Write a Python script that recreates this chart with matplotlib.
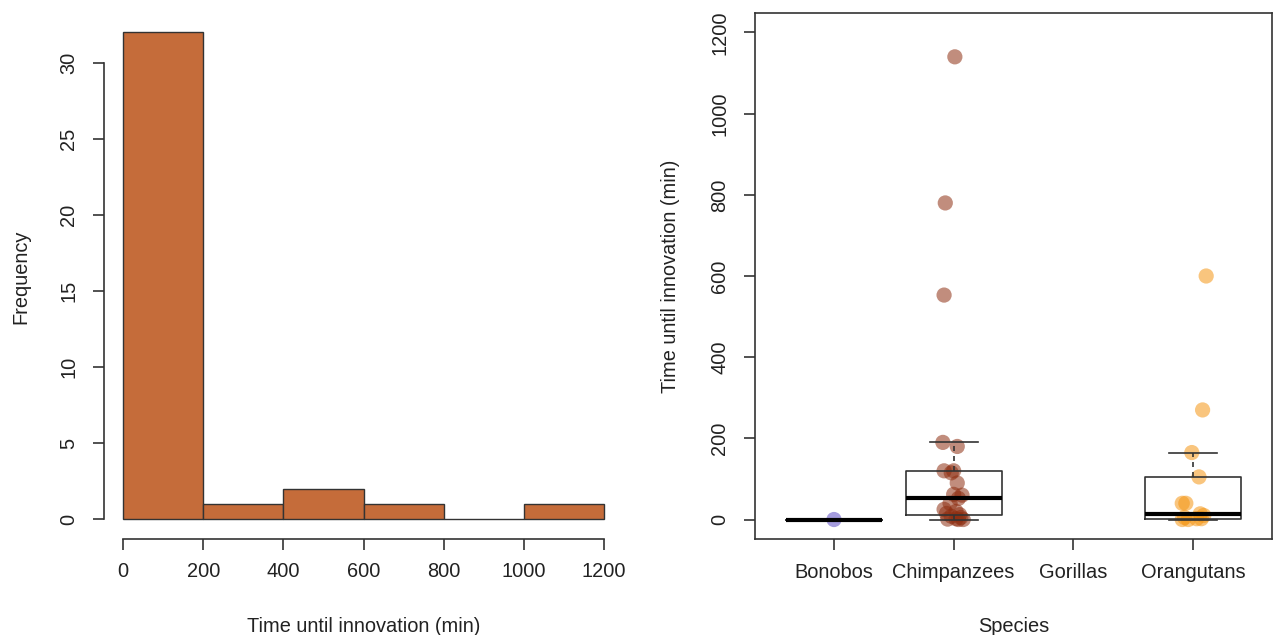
import numpy as np
import pandas as pd
import matplotlib
matplotlib.use("Agg")
import matplotlib.pyplot as plt

plt.rcParams['font.family'] = ['Liberation Sans', 'DejaVu Sans']

# ---------------- data ----------------
species = ['Bonobos', 'Chimpanzees', 'Gorillas', 'Orangutans']
bonobo_times = [0]
chimp_times = [0, 0, 1, 2, 5, 8, 12, 15, 20, 25, 40, 52, 60, 62, 90, 115, 120, 120,
               180, 190, 553, 780, 1140]
gorilla_times = []
orang_times = [0, 0, 2, 2, 5, 10, 14, 40, 40, 105, 165, 270, 600]

# horizontal jitter (category units)
bonobo_jitter = [0.0]
chimp_jitter = [0.04, 0.08, -0.05, 0.02, 0.06, -0.02, 0.05, -0.06, 0.02, -0.08, -0.03,
                0.04, 0.07, 0.0, 0.03, -0.02, -0.08, 0.0, 0.03, -0.09, -0.08, -0.07, 0.01]
gorilla_jitter = []
orang_jitter = [-0.09, -0.04, 0.07, 0.03, -0.07, 0.09, 0.06, -0.09, -0.06, 0.05, -0.01,
                0.08, 0.11]

hist_breaks = [0, 200, 400, 600, 800, 1000, 1200]
hist_yticks = [0, 5, 10, 15, 20, 25, 30]
box_yticks = [0, 200, 400, 600, 800, 1000, 1200]

# ---------------- style ----------------
W, H = 1273, 635
axis_col = '#333333'
text_col = '#222222'
fs = 14.4
bar_col = '#C56C3A'
pt_cols = ['#5B4BC4', '#8E2F12', '#888888', '#F59614']

fig = plt.figure(figsize=(W / 100, H / 100), dpi=100)

def fx(px):
    return px / W

def fy(py):
    return 1 - py / H

# ---------------- left: histogram ----------------
ax1 = fig.add_axes([fx(104), fy(538.5), fx(623) - fx(104), fy(13) - fy(538.5)])
all_times = pd.Series(bonobo_times + chimp_times + gorilla_times + orang_times, dtype=float)
counts = pd.cut(all_times, bins=hist_breaks, right=True, include_lowest=True).value_counts(sort=False).values
ax1.bar(hist_breaks[:-1], counts, width=np.diff(hist_breaks), align='edge',
        color=bar_col, edgecolor=axis_col, linewidth=1.0)
ax1.set_xlim(-48, 1248)
ax1.set_ylim(-0.04 * 32, 32 * 1.04)
for s in ['top', 'right']:
    ax1.spines[s].set_visible(False)
ax1.spines['left'].set_bounds(0, 30)
ax1.spines['bottom'].set_bounds(0, 1200)
ax1.set_xticks(hist_breaks)
ax1.set_xticklabels([str(b) for b in hist_breaks])
ax1.set_yticks(hist_yticks)
ax1.set_yticklabels([str(v) for v in hist_yticks], rotation=90, va='center')

# ---------------- right: boxplot + points ----------------
ax2 = fig.add_axes([fx(755), fy(539), fx(1272) - fx(755), fy(13) - fy(539)])

groups = [bonobo_times, chimp_times, gorilla_times, orang_times]
jitters = [bonobo_jitter, chimp_jitter, gorilla_jitter, orang_jitter]

for i, (vals, jit, col) in enumerate(zip(groups, jitters, pt_cols)):
    if len(vals) == 0:
        continue
    xs = np.array(jit) + i + 1
    ax2.scatter(xs, vals, s=120, color=col, alpha=0.55, edgecolors='none', zorder=2)

def fivenum(x):
    x = np.sort(np.asarray(x, dtype=float))
    n = len(x)
    n4 = np.floor((n + 3) / 2) / 2
    d = np.array([1, n4, (n + 1) / 2, n + 1 - n4, n]) - 1
    return 0.5 * (x[np.floor(d).astype(int)] + x[np.ceil(d).astype(int)])

stats, positions = [], []
for i, vals in enumerate(groups):
    if len(vals) == 0:
        continue
    v = np.asarray(vals, dtype=float)
    mn, q1, med, q3, mx = fivenum(v)
    iqr = q3 - q1
    lo = v[v >= q1 - 1.5 * iqr].min()
    hi = v[v <= q3 + 1.5 * iqr].max()
    stats.append(dict(med=med, q1=q1, q3=q3, whislo=lo, whishi=hi, fliers=[]))
    positions.append(i + 1)

ax2.bxp(stats, positions=positions, widths=0.8, showfliers=False, capwidths=0.4,
        boxprops=dict(color=axis_col, linewidth=1.2),
        medianprops=dict(color='black', linewidth=3.0),
        whiskerprops=dict(color=axis_col, linewidth=1.2, linestyle=(0, (3, 3))),
        capprops=dict(color=axis_col, linewidth=1.2),
        manage_ticks=False, zorder=3)

ax2.set_xlim(0.5 - 0.16, 4.5 + 0.16)
ax2.set_ylim(-48, 1248)
ax2.set_xticks(range(1, len(species) + 1))
ax2.set_xticklabels(species)
ax2.set_yticks(box_yticks)
ax2.set_yticklabels([str(v) for v in box_yticks], rotation=90, va='center')
for s in ax2.spines.values():
    s.set_color(axis_col)
    s.set_linewidth(1.2)

for ax in (ax1, ax2):
    ax.tick_params(axis='both', length=8, width=1.2, color=axis_col,
                   labelsize=fs, labelcolor=text_col)
    ax.tick_params(axis='x', pad=9)
    ax.tick_params(axis='y', pad=10.5)
    for s in ['left', 'bottom']:
        ax.spines[s].set_color(axis_col)
        ax.spines[s].set_linewidth(1.2)

# ---------------- axis titles ----------------
fig.text(fx(363.5), fy(632), 'Time until innovation (min)', ha='center', va='baseline',
         fontsize=fs, color=text_col)
fig.text(fx(21), fy(277), 'Frequency', ha='center', va='center', rotation=90,
         fontsize=fs, color=text_col)
fig.text(fx(1013.5), fy(632), 'Species', ha='center', va='baseline',
         fontsize=fs, color=text_col)
fig.text(fx(671), fy(276), 'Time until innovation (min)', ha='center', va='center',
         rotation=90, fontsize=fs, color=text_col)

fig.savefig('out.png', dpi=100)
